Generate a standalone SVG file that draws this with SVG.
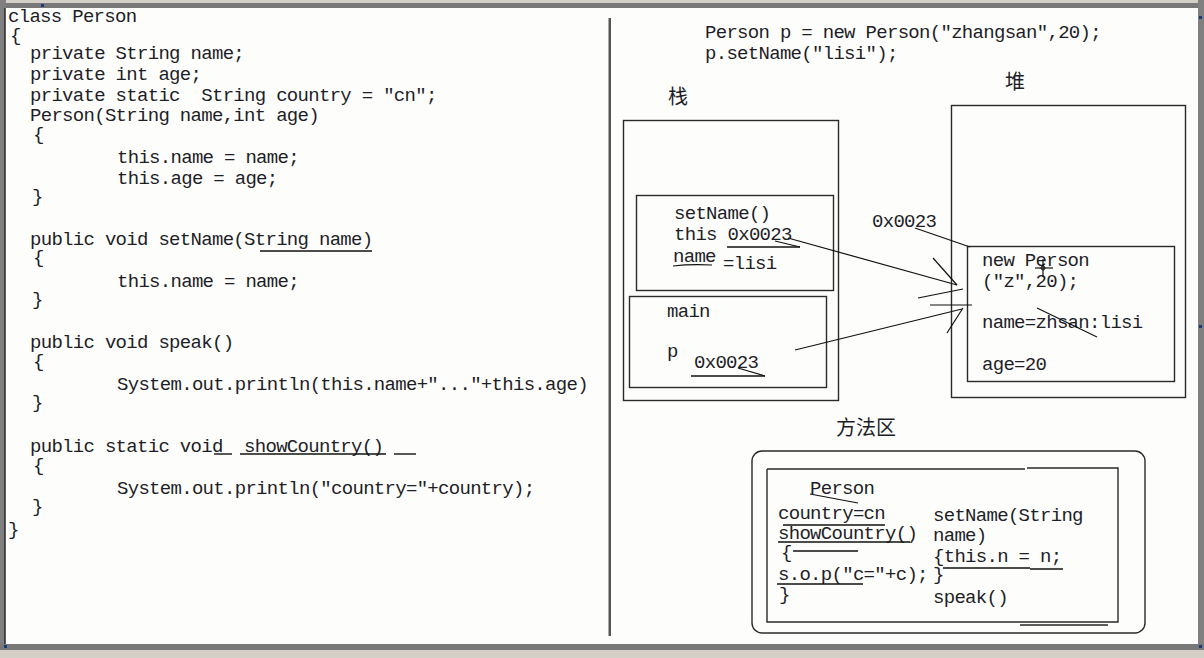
<svg xmlns="http://www.w3.org/2000/svg" width="1204" height="658" viewBox="0 0 1204 658">
<style>
.t{font-family:"Liberation Mono","DejaVu Sans Mono",monospace;font-size:19px;letter-spacing:-0.7px;fill:#1e1e28}
.c{font-family:"Noto Sans CJK SC","Noto Sans CJK JP",sans-serif;font-size:20px;fill:#1e1e28}
.box{fill:none;stroke:#2a2a2a;stroke-width:1.4}
.ln{stroke:#111;stroke-width:1.2;fill:none}
.ul{stroke:#111;stroke-width:1.4;fill:none}
</style>
<rect x="0" y="0" width="1204" height="658" fill="#fdfdfb"/>
<g id="frame">
<rect x="0" y="0" width="1204" height="3" fill="#d4d0c8"/>
<rect x="0" y="3" width="1204" height="5" fill="#787878"/>
<rect x="0" y="0" width="6" height="650" fill="#808080"/>
<rect x="4" y="8" width="1.5" height="638" fill="#3c3c3c"/>
<rect x="1198" y="0" width="6" height="650" fill="#808080"/>
<rect x="0" y="644" width="1204" height="6" fill="#787878"/>
<rect x="0" y="650" width="1204" height="8" fill="#d4d0c8"/>
<rect x="1199" y="16" width="3" height="3" fill="#1a3a7a"/>
<rect x="1199" y="325" width="3" height="3" fill="#1a3a7a"/>
<rect x="1199" y="645" width="3" height="3" fill="#1a3a7a"/>
<rect x="4" y="645" width="3" height="3" fill="#1a3a7a"/>
<rect x="41" y="4" width="3" height="3" fill="#1a3a7a"/>
<rect x="608.5" y="18" width="2.5" height="618" fill="#555"/>
</g>
<g id="code">
<text class="t" x="8" y="22">class Person</text>
<text class="t" x="10" y="41">{</text>
<text class="t" x="30" y="59">private String name;</text>
<text class="t" x="30" y="80">private int age;</text>
<text class="t" x="30" y="101" xml:space="preserve">private static  String country = "cn";</text>
<text class="t" x="30" y="121">Person(String name,int age)</text>
<text class="t" x="33" y="140">{</text>
<text class="t" x="117" y="163">this.name = name;</text>
<text class="t" x="117" y="184">this.age = age;</text>
<text class="t" x="32" y="202">}</text>
<text class="t" x="30" y="245">public void setName(String name)</text>
<text class="t" x="33" y="263">{</text>
<text class="t" x="117" y="287">this.name = name;</text>
<text class="t" x="32" y="305">}</text>
<text class="t" x="30" y="348">public void speak()</text>
<text class="t" x="33" y="367">{</text>
<text class="t" x="117" y="390">System.out.println(this.name+"..."+this.age)</text>
<text class="t" x="32" y="408">}</text>
<text class="t" x="30" y="452" xml:space="preserve">public static void  showCountry()</text>
<text class="t" x="33" y="471">{</text>
<text class="t" x="117" y="494">System.out.println("country="+country);</text>
<text class="t" x="32" y="512">}</text>
<text class="t" x="8" y="535">}</text>
<line class="ul" x1="260" y1="251" x2="372" y2="251"/>
<line class="ul" x1="214" y1="454" x2="232" y2="454"/>
<line class="ul" x1="240" y1="454" x2="386" y2="454"/>
<line class="ul" x1="394" y1="454" x2="416" y2="454"/>
</g>
<g id="statements">
<text class="t" x="705" y="38">Person p = new Person("zhangsan",20);</text>
<text class="t" x="705" y="59">p.setName("lisi");</text>
</g>
<g id="stack">
<text class="c" x="678" y="104" text-anchor="middle">栈</text>
<rect class="box" x="623.5" y="120.5" width="215" height="280"/>
</g>
<g id="frame-setName">
<rect class="box" x="636.5" y="195.5" width="197" height="95"/>
<text class="t" x="674" y="219">setName()</text>
<text class="t" x="674" y="240">this 0x0023</text>
<text class="t" x="673" y="262">name</text>
<text class="t" x="723" y="269">=lisi</text>
<line class="ul" x1="727" y1="247" x2="800" y2="247"/>
<line class="ln" x1="775" y1="241" x2="800" y2="247"/>
<path class="ln" d="M673 266 Q690 264 712 265"/>
</g>
<g id="frame-main">
<rect class="box" x="629.5" y="296.5" width="197" height="91"/>
<text class="t" x="667" y="317">main</text>
<text class="t" x="667" y="357">p</text>
<text class="t" x="694" y="368">0x0023</text>
<line class="ul" x1="691" y1="376" x2="765" y2="376"/>
<line class="ln" x1="738" y1="368" x2="765" y2="376"/>
</g>
<g id="heap">
<text class="c" x="1015" y="89" text-anchor="middle">堆</text>
<rect class="box" x="951.5" y="105.5" width="234" height="292"/>
<text class="t" x="872" y="227">0x0023</text>
</g>
<g id="object">
<rect class="box" x="967.5" y="246.5" width="207" height="135"/>
<text class="t" x="982" y="266">new Person</text>
<text class="t" x="982" y="287">("z",20);</text>
<text class="t" x="982" y="328">name=zhsan:lisi</text>
<text class="t" x="982" y="370">age=20</text>
<line class="ln" x1="1037" y1="308" x2="1097" y2="337"/>
<line class="ln" x1="1035" y1="268" x2="1053" y2="268"/>
<line class="ln" x1="1043" y1="259" x2="1043" y2="277"/>
<circle cx="1043" cy="268" r="2" fill="none" stroke="#111" stroke-width="1"/>
</g>
<g id="method-area">
<text class="c" x="836" y="435">方法区</text>
<rect class="box" x="752" y="451" width="393" height="182" rx="10"/>
<path class="box" d="M767 469 H1025 M1027 468 H1118 V622 H767 V469 M1020 625 H1108"/>
<text class="t" x="810" y="494">Person</text>
<text class="t" x="778" y="519">country=cn</text>
<text class="t" x="778" y="539">showCountry()</text>
<text class="t" x="781" y="558">{</text>
<text class="t" x="778" y="580">s.o.p("c="+c);</text>
<text class="t" x="779" y="600">}</text>
<text class="t" x="933" y="521">setName(String</text>
<text class="t" x="933" y="541">name)</text>
<text class="t" x="933" y="562">{this.n = n;</text>
<text class="t" x="933" y="580">}</text>
<text class="t" x="933" y="603">speak()</text>
<line class="ln" x1="810" y1="494" x2="858" y2="503"/>
<line class="ul" x1="783" y1="525" x2="885" y2="525"/>
<line class="ul" x1="778" y1="542" x2="910" y2="542"/>
<line class="ul" x1="793" y1="551" x2="858" y2="551"/>
<line class="ul" x1="777" y1="584" x2="863" y2="584"/>
<line class="ul" x1="943" y1="568" x2="1030" y2="568"/>
<line class="ul" x1="1030" y1="569" x2="1063" y2="569"/>
</g>
<g id="connectors">
<line class="ln" x1="788" y1="238" x2="957" y2="285"/>
<line class="ln" x1="933" y1="258" x2="957" y2="285"/>
<line class="ln" x1="918" y1="298" x2="963" y2="289"/>
<line class="ln" x1="795" y1="350" x2="962" y2="309"/>
<line class="ln" x1="930" y1="305" x2="972" y2="305"/>
<line class="ln" x1="947" y1="333" x2="963" y2="308"/>
<line class="ln" x1="915" y1="228" x2="970" y2="247"/>
</g>
</svg>
